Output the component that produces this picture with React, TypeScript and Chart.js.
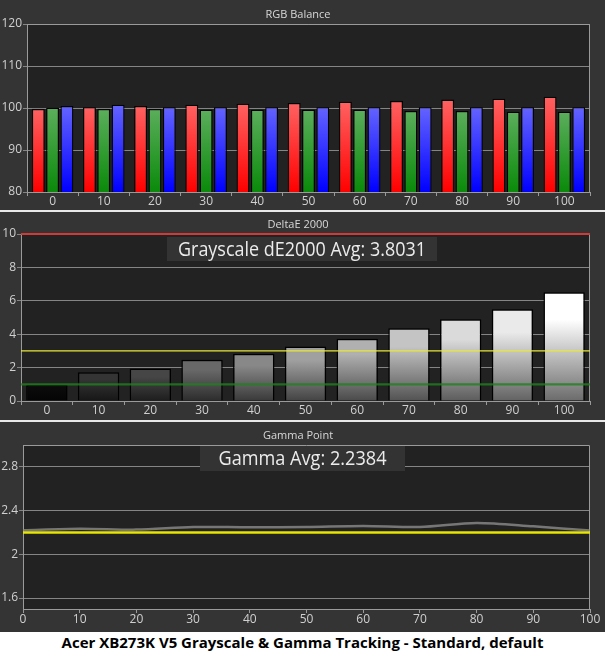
import React, { useEffect, useRef } from 'react';
import { Chart, registerables } from 'chart.js';

Chart.register(...registerables);

// ---- data ----
const levels = ['0', '10', '20', '30', '40', '50', '60', '70', '80', '90', '100'];

const rgbRed = [99.8, 100.2, 100.5, 100.8, 101.0, 101.2, 101.5, 101.7, 102.0, 102.2, 102.7];
const rgbGreen = [100.05, 99.8, 99.8, 99.6, 99.6, 99.6, 99.6, 99.3, 99.3, 99.1, 99.1];
const rgbBlue = [100.5, 100.8, 100.2, 100.2, 100.2, 100.2, 100.2, 100.2, 100.2, 100.2, 100.2];

const deltaE = [0.96, 1.72, 1.94, 2.47, 2.83, 3.27, 3.73, 4.35, 4.89, 5.49, 6.51];
const deltaLimitRed = 10;
const deltaLimitYellow = 3;
const deltaLimitGreen = 1;

const gammaX = [0, 10, 20, 30, 40, 50, 60, 70, 80, 90, 100];
const gammaValues = [2.22, 2.235, 2.226, 2.25, 2.247, 2.25, 2.26, 2.25, 2.287, 2.256, 2.217];
const gammaTarget = 2.2;
const gammaTicks = [1.6, 2, 2.4, 2.8];

const deltaAvgText = 'Grayscale dE2000 Avg: 3.8031';
const gammaAvgText = 'Gamma Avg: 2.2384';
const captionText = 'Acer XB273K V5 Grayscale & Gamma Tracking - Standard, default';

// ---- styling ----
const FONT = "'Open Sans', 'Noto Sans', sans-serif";
const PANEL_BG = '#343434';
const PLOT_BG = '#222222';
const GRID = '#858585';
const FRAME = '#9a9a9a';
const TICK_TEXT = '#d0d0d0';

// grey tone of each delta bar, from black to white
const deltaShades = [10, 52, 70, 104, 136, 160, 176, 196, 218, 234, 255];

Chart.defaults.font.family = FONT;

const gradientFill = (top: string, bottom: string, hold: number) => (c: any) => {
    const chart = c.chart;
    const area = chart.chartArea;
    if (!area || c.type !== 'data') return bottom;
    const y = chart.scales.y.getPixelForValue(c.raw);
    const g = chart.ctx.createLinearGradient(0, y, 0, area.bottom);
    g.addColorStop(0, top);
    g.addColorStop(hold, top);
    g.addColorStop(1, bottom);
    return g;
};

const grey = (v: number) => `rgb(${v},${v},${v})`;

interface Decor {
    title: string;
    box?: { x1: number; x2: number; y1: number; y2: number; text: string; maxW: number };
    over?: { value: number; color: string; width: number }[];
}

const hline = (chart: any, value: number, color: string, width: number) => {
    const { ctx, chartArea } = chart;
    const y = chart.scales.y.getPixelForValue(value);
    ctx.save();
    ctx.strokeStyle = color;
    ctx.lineWidth = width;
    ctx.beginPath();
    ctx.moveTo(chartArea.left, y);
    ctx.lineTo(chartArea.right, y);
    ctx.stroke();
    ctx.restore();
};

const decorPlugin = (d: Decor) => ({
    id: 'decor',
    beforeDraw(chart: any) {
        const { ctx, chartArea, width, height } = chart;
        ctx.save();
        ctx.fillStyle = PANEL_BG;
        ctx.fillRect(0, 0, width, height);
        ctx.fillStyle = PLOT_BG;
        ctx.fillRect(chartArea.left, chartArea.top, chartArea.right - chartArea.left, chartArea.bottom - chartArea.top);
        ctx.restore();
    },
    beforeDatasetsDraw(chart: any) {
        const { ctx, chartArea } = chart;
        ctx.save();
        ctx.strokeStyle = FRAME;
        ctx.lineWidth = 1;
        ctx.beginPath();
        ctx.moveTo(chartArea.left, chartArea.top + 0.5);
        ctx.lineTo(chartArea.right - 0.5, chartArea.top + 0.5);
        ctx.lineTo(chartArea.right - 0.5, chartArea.bottom);
        ctx.stroke();
        ctx.restore();
        if (d.box) {
            const b = d.box;
            ctx.save();
            ctx.fillStyle = '#333333';
            ctx.fillRect(b.x1, b.y1, b.x2 - b.x1, b.y2 - b.y1);
            ctx.fillStyle = '#ececec';
            ctx.font = `20px ${FONT}`;
            ctx.textAlign = 'center';
            ctx.textBaseline = 'middle';
            ctx.fillText(b.text, (b.x1 + b.x2) / 2, (b.y1 + b.y2) / 2 + 1, b.maxW);
            ctx.restore();
        }
    },
    afterDatasetsDraw(chart: any) {
        (d.over || []).forEach(l => hline(chart, l.value, l.color, l.width));
    },
    afterDraw(chart: any) {
        const { ctx } = chart;
        ctx.save();
        ctx.fillStyle = '#d8d8d8';
        ctx.font = `11px ${FONT}`;
        ctx.textAlign = 'center';
        ctx.textBaseline = 'middle';
        ctx.fillText(d.title, 298, chart.chartArea.top - 9);
        ctx.restore();
    },
});

const yAxis = (min: number, max: number, step: number, width: number, extra: any = {}) => ({
    min,
    max,
    afterFit: (s: any) => { s.width = width; },
    grid: { color: GRID, tickColor: GRID, tickLength: 4, drawTicks: true },
    border: { color: FRAME },
    ticks: { stepSize: step, color: TICK_TEXT, font: { size: 12 }, padding: 1, callback: (v: any) => String(v) },
    ...extra,
});

const xCat = (height: number) => ({
    type: 'category' as const,
    afterFit: (s: any) => { s.height = height; },
    grid: { offset: true, drawOnChartArea: false, color: FRAME, tickLength: 4 },
    border: { color: FRAME },
    ticks: { color: TICK_TEXT, font: { size: 12 }, padding: -2, maxRotation: 0 },
});

const baseOptions = (padTop: number, scales: any) => ({
    responsive: true,
    maintainAspectRatio: false,
    animation: false as const,
    layout: { padding: { top: padTop, right: 15, bottom: 0, left: 0 } },
    plugins: { legend: { display: false }, tooltip: { enabled: false }, title: { display: false } },
    scales,
});

const usePanel = (build: (ctx: CanvasRenderingContext2D) => Chart) => {
    const ref = useRef<HTMLCanvasElement>(null);
    useEffect(() => {
        const ctx = ref.current?.getContext('2d');
        if (!ctx) return;
        const chart = build(ctx);
        return () => chart.destroy();
    }, []);
    return ref;
};

const RgbPanel: React.FC = () => {
    const ref = usePanel(ctx => new Chart(ctx, {
        type: 'bar',
        data: {
            labels: levels,
            datasets: [
                { data: rgbRed, backgroundColor: gradientFill('#ff6262', '#ff0000', 0), borderColor: '#000', borderWidth: 1.3, categoryPercentage: 0.84, barPercentage: 0.9 },
                { data: rgbGreen, backgroundColor: gradientFill('#5cae5c', '#0a8a0a', 0), borderColor: '#000', borderWidth: 1.3, categoryPercentage: 0.84, barPercentage: 0.9 },
                { data: rgbBlue, backgroundColor: gradientFill('#6464ff', '#0000ff', 0), borderColor: '#000', borderWidth: 1.3, categoryPercentage: 0.84, barPercentage: 0.9 },
            ],
        },
        options: baseOptions(24, { x: xCat(18), y: yAxis(80, 120, 10, 27) }) as any,
        plugins: [decorPlugin({ title: 'RGB Balance' })],
    }));
    return <div style={{ width: 605, height: 210, position: 'relative' }}><canvas ref={ref} /></div>;
};

const DeltaPanel: React.FC = () => {
    const ref = usePanel(ctx => new Chart(ctx, {
        type: 'bar',
        data: {
            labels: levels,
            datasets: [{
                data: deltaE,
                backgroundColor: (c: any) => {
                    const s = deltaShades[c.dataIndex] ?? 128;
                    return gradientFill(grey(s), grey(Math.round(s * 0.42)), 0.25)(c);
                },
                borderColor: '#000',
                borderWidth: 1.5,
                categoryPercentage: 1,
                barPercentage: 0.8,
            }],
        },
        options: baseOptions(22, { x: xCat(19), y: yAxis(0, 10, 2, 21) }) as any,
        plugins: [decorPlugin({
            title: 'DeltaE 2000',
            box: { x1: 167, x2: 437, y1: 25, y2: 49, text: deltaAvgText, maxW: 248 },
            over: [
                { value: deltaLimitYellow, color: '#e8e83a', width: 1.2 },
                { value: deltaLimitGreen, color: 'rgba(34,128,34,0.8)', width: 2.2 },
                { value: deltaLimitRed, color: '#d23a3a', width: 2 },
            ],
        })],
    }));
    return <div style={{ width: 605, height: 208, position: 'relative' }}><canvas ref={ref} /></div>;
};

const GammaPanel: React.FC = () => {
    const ref = usePanel(ctx => new Chart(ctx, {
        type: 'line',
        data: {
            datasets: [{
                data: gammaX.map((x, i) => ({ x, y: gammaValues[i] })),
                borderColor: 'rgba(140,140,140,0.8)',
                borderWidth: 2.5,
                pointRadius: 0,
                tension: 0.3,
            }],
        },
        options: baseOptions(23, {
            x: {
                type: 'linear',
                min: 0,
                max: 100,
                afterFit: (s: any) => { s.height = 23; },
                grid: { drawOnChartArea: false, color: FRAME, tickLength: 4 },
                border: { color: FRAME },
                ticks: { stepSize: 10, color: TICK_TEXT, font: { size: 12 }, padding: -1, maxRotation: 0 },
            },
            y: yAxis(1.5, 3.0, 0.4, 23, {
                afterBuildTicks: (s: any) => { s.ticks = gammaTicks.map(v => ({ value: v })); },
            }),
        }) as any,
        plugins: [decorPlugin({
            title: 'Gamma Point',
            box: { x1: 200, x2: 405, y1: 24, y2: 49, text: gammaAvgText, maxW: 168 },
            over: [{ value: gammaTarget, color: '#e6e600', width: 2.5 }],
        })],
    }));
    return <div style={{ width: 605, height: 210, position: 'relative' }}><canvas ref={ref} /></div>;
};

const Divider: React.FC = () => <div style={{ width: 605, height: 2, background: '#e8e8e8' }} />;

export default function App() {
    return (
        <div style={{ position: 'absolute', left: 0, top: 0, width: 605, height: 652, background: '#fff' }}>
            <RgbPanel />
            <Divider />
            <DeltaPanel />
            <Divider />
            <GammaPanel />
            <div style={{
                height: 20,
                lineHeight: '20px',
                textAlign: 'center',
                font: `bold 15px ${FONT}`,
                color: '#000',
                whiteSpace: 'nowrap',
            }}>
                {captionText}
            </div>
        </div>
    );
}
